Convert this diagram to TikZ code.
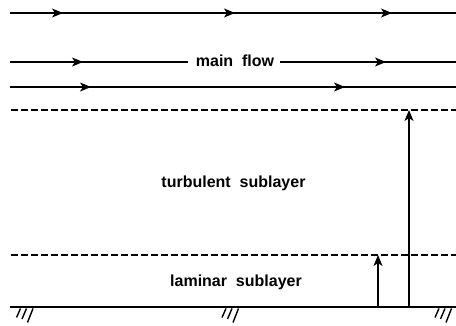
\documentclass[tikz,border=0pt]{standalone}
\usepackage{fontspec}
\setmainfont{Liberation Sans}
\usetikzlibrary{arrows.meta,decorations.markings}
\tikzset{
  head/.tip={Stealth[length=11pt,width=9pt,inset=3pt]},
  flow/.style={line width=1.4pt},
  tip/.style={-head},
  layer/.style={line width=1.4pt,dash pattern=on 6.5pt off 3.5pt},
  lbl/.style={inner sep=0pt,anchor=base,font=\fontsize{16}{18}\selectfont\bfseries},
  hatch/.style={line width=1.4pt},
  mk/.style={decoration={markings,mark=at position #1 with {\arrow{head}}},postaction={decorate}}
}
\begin{document}
\begin{tikzpicture}[x=1pt,y=-1pt]
\useasboundingbox (0,0) rectangle (456,326);
% top flow line
\coordinate (t0) at (10,13);
\coordinate (t1) at (456,13);
\draw[flow,
  decoration={markings,
    mark=at position 53pt with {\arrow{head}},
    mark=at position 225pt with {\arrow{head}},
    mark=at position 382pt with {\arrow{head}}},
  postaction={decorate}] (t0) -- (t1);
% main flow line
\node[lbl] (mf) at (235,67) {main\ \ flow};
\coordinate (m0) at (10,62);
\coordinate (m1) at (188,62);
\coordinate (m2) at (280,62);
\coordinate (m3) at (456,62);
\draw[flow,mk=73pt] (m0) -- (m1);
\draw[flow,mk=106pt] (m2) -- (m3);
% third flow line
\coordinate (f0) at (10,87);
\coordinate (f1) at (456,87);
\draw[flow,
  decoration={markings,
    mark=at position 81pt with {\arrow{head}},
    mark=at position 335pt with {\arrow{head}}},
  postaction={decorate}] (f0) -- (f1);
% dashed layer boundaries
\coordinate (d0) at (11,110);
\coordinate (d1) at (456,110);
\draw[layer] (d0) -- (d1);
\coordinate (e0) at (11,255);
\coordinate (e1) at (456,255);
\draw[layer] (e0) -- (e1);
% labels
\node[lbl] (turb) at (233.5,188) {turbulent\ \ sublayer};
\node[lbl] (lam) at (236,287) {laminar\ \ sublayer};
% ground
\coordinate (g0) at (10,307);
\coordinate (g1) at (456,307);
\draw[flow] (g0) -- (g1);
% hatches
\foreach \x in {20.5,226,439}{
  \draw[hatch] (\x,308.5) -- ++(-4,9);
  \draw[hatch] (\x+6,308.5) -- ++(-4.5,10.5);
  \draw[hatch] (\x+12.5,308.5) -- ++(-5.5,14);
}
% thickness arrows
\coordinate (a0) at (378,307);
\coordinate (a1) at (378,255);
\draw[flow,tip] (a0) -- (a1);
\coordinate (b0) at (409,307);
\coordinate (b1) at (409,110);
\draw[flow,tip] (b0) -- (b1);
\end{tikzpicture}
\end{document}
